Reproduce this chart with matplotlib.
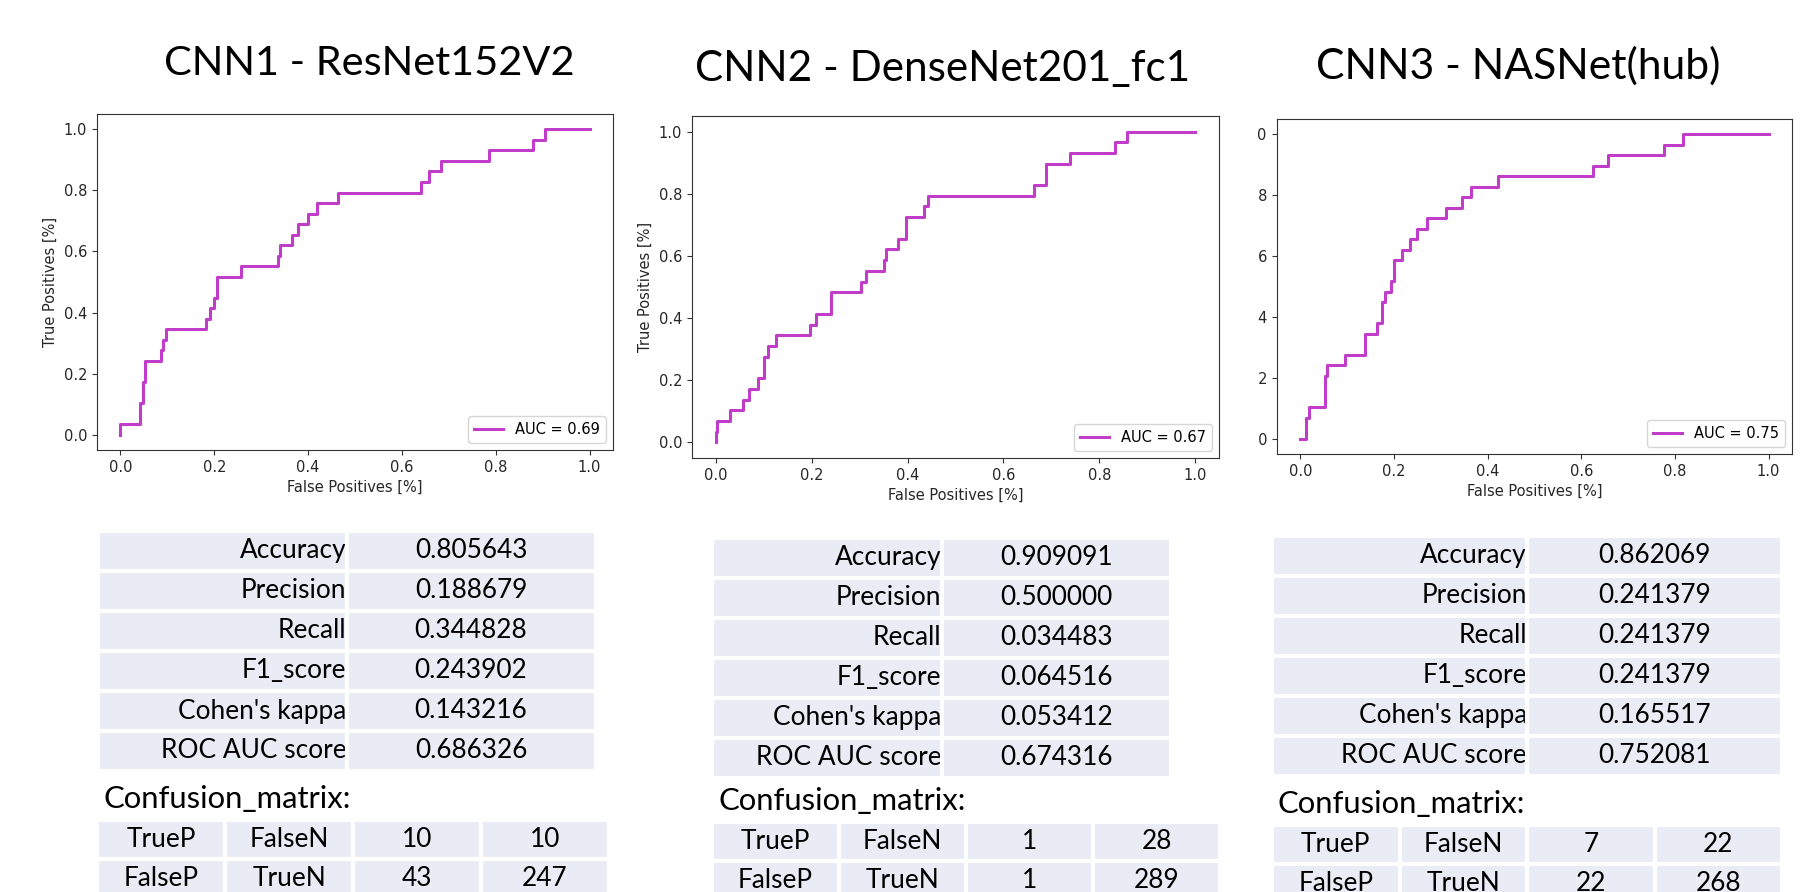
import matplotlib
matplotlib.use('Agg')
import matplotlib.pyplot as plt
from matplotlib.transforms import Bbox, TransformedBbox

# ROC curves (step corners: fpr where tpr jumps, tpr after the jump)
roc1_fpr = [0.0, 0.0, 0.041, 0.047, 0.052, 0.086, 0.090, 0.097, 0.183, 0.191, 0.200, 0.205, 0.257, 0.336,
            0.340, 0.366, 0.378, 0.400, 0.418, 0.463, 0.641, 0.658, 0.683, 0.786, 0.880, 0.904, 1.0]
roc1_tpr = [0.0, 0.034, 0.103, 0.172, 0.241, 0.276, 0.310, 0.345, 0.379, 0.414, 0.448, 0.517, 0.552, 0.586,
            0.621, 0.655, 0.690, 0.724, 0.759, 0.793, 0.828, 0.862, 0.897, 0.931, 0.966, 1.0, 1.0]
roc2_fpr = [0.0, 0.0, 0.002, 0.030, 0.057, 0.070, 0.088, 0.100, 0.109, 0.126, 0.196, 0.209, 0.241, 0.303,
            0.313, 0.350, 0.355, 0.379, 0.397, 0.435, 0.442, 0.664, 0.688, 0.740, 0.833, 0.858, 1.0]
roc2_tpr = [0.0, 0.034, 0.069, 0.103, 0.138, 0.172, 0.207, 0.276, 0.310, 0.345, 0.379, 0.414, 0.483, 0.517,
            0.552, 0.586, 0.621, 0.655, 0.724, 0.759, 0.793, 0.828, 0.897, 0.931, 0.966, 1.0, 1.0]
roc3_fpr = [0.0, 0.012, 0.018, 0.052, 0.056, 0.095, 0.138, 0.163, 0.175, 0.180, 0.194, 0.200, 0.216,
            0.235, 0.248, 0.271, 0.311, 0.346, 0.365, 0.421, 0.625, 0.657, 0.776, 0.818, 1.0]
roc3_tpr = [0.0, 0.069, 0.103, 0.207, 0.241, 0.276, 0.345, 0.379, 0.448, 0.483, 0.517, 0.586, 0.621,
            0.655, 0.690, 0.724, 0.759, 0.793, 0.828, 0.862, 0.897, 0.931, 0.966, 1.0, 1.0]
auc_labels = ['AUC = 0.69', 'AUC = 0.67', 'AUC = 0.75']

titles = ['CNN1 - ResNet152V2', 'CNN2 - DenseNet201_fc1', 'CNN3 - NASNet(hub)']

metric_names = ['Accuracy', 'Precision', 'Recall', 'F1_score', "Cohen's kappa", 'ROC AUC score']
cnn1_metrics = ['0.805643', '0.188679', '0.344828', '0.243902', '0.143216', '0.686326']
cnn2_metrics = ['0.909091', '0.500000', '0.034483', '0.064516', '0.053412', '0.674316']
cnn3_metrics = ['0.862069', '0.241379', '0.241379', '0.241379', '0.165517', '0.752081']

cm_row_names = [['TrueP', 'FalseN'], ['FalseP', 'TrueN']]
cnn1_cm = [['10', '10'], ['43', '247']]
cnn2_cm = [['1', '28'], ['1', '289']]
cnn3_cm = [['7', '22'], ['22', '268']]

W, H = 1810, 892
line_col = '#c13cc8'
cell_col = '#e9ebf5'
txt_font = ['Lato', 'DejaVu Sans']

fig = plt.figure(figsize=(W / 100, H / 100), dpi=100)
renderer = fig.canvas.get_renderer()


def px_rect(x0, y0, x1, y1):
    # pixel box (top-left origin) -> figure fraction rect
    return [x0 / W, 1 - y1 / H, (x1 - x0) / W, (y1 - y0) / H]


def fit_size(text, width_px, start=20):
    t = fig.text(0, 0, text, fontsize=start, family=txt_font)
    w = t.get_window_extent(renderer=renderer).width
    t.remove()
    return start * width_px / w


def roc_panel(rect, fpr, tpr, label, ylabel=True):
    ax = fig.add_axes(rect)
    ax.plot(fpr, tpr, drawstyle='steps-post', color=line_col, lw=2.2, label=label)
    ax.set_xlim(-0.05, 1.05)
    ax.set_ylim(-0.05, 1.05)
    ax.set_xticks([0, 0.2, 0.4, 0.6, 0.8, 1.0])
    ax.set_yticks([0, 0.2, 0.4, 0.6, 0.8, 1.0])
    ax.set_xlabel('False Positives [%]', fontsize=10.5, color='#262626')
    if ylabel:
        ax.set_ylabel('True Positives [%]', fontsize=10.5, color='#262626')
    ax.tick_params(labelsize=10.5, colors='#333333', labelcolor='#262626')
    for s in ax.spines.values():
        s.set_color('#333333')
    ax.legend(loc='lower right', fontsize=10.5)
    return ax


def metrics_table(rect, values, fs):
    ax = fig.add_axes(rect)
    ax.axis('off')
    rows = [[n, v] for n, v in zip(metric_names, values)]
    tb = ax.table(cellText=rows, bbox=[0, 0, 1, 1], cellLoc='center')
    tb.auto_set_font_size(False)
    for (r, c), cell in tb.get_celld().items():
        cell.set_facecolor(cell_col)
        cell.set_edgecolor('white')
        cell.set_linewidth(3)
        cell.get_text().set_fontsize(fs)
        cell.get_text().set_fontfamily(txt_font)
        if c == 0:
            cell.get_text().set_horizontalalignment('right')
            cell.PAD = 0.0
    return ax


def cm_table(rect, counts, fs):
    ax = fig.add_axes(rect)
    ax.axis('off')
    rows = [names + vals for names, vals in zip(cm_row_names, counts)]
    tb = ax.table(cellText=rows, bbox=[0, 0, 1, 1], cellLoc='center')
    tb.auto_set_font_size(False)
    for (r, c), cell in tb.get_celld().items():
        cell.set_facecolor(cell_col)
        cell.set_edgecolor('white')
        cell.set_linewidth(3)
        cell.get_text().set_fontsize(fs)
        cell.get_text().set_fontfamily(txt_font)
    return ax


# titles
title_x = [369, 943, 1518]
title_y = [75, 81, 79]
title_w = [410, 496, 405]
for t, x, y, w in zip(titles, title_x, title_y, title_w):
    fig.text(x / W, 1 - y / H, t, fontsize=fit_size(t, w), family=txt_font,
             ha='center', va='baseline')

# roc plots
roc_panel(px_rect(97, 114, 613, 450), roc1_fpr, roc1_tpr, auc_labels[0])
roc_panel(px_rect(692, 116, 1219, 458), roc2_fpr, roc2_tpr, auc_labels[1])
ax3 = roc_panel(px_rect(1277, 119, 1792, 454), roc3_fpr, roc3_tpr, auc_labels[2], ylabel=False)
# third screenshot is cut on the left, only the last digit of the y ticks shows
clip = TransformedBbox(Bbox([[1257 / W, 0], [1, 1]]), fig.transFigure)
for lbl in ax3.get_yticklabels():
    lbl.set_clip_box(clip)
    lbl.set_clip_on(True)

# tables
tab_fs = fit_size('ROC AUC score', 176) * 1.05
cm_fs = fit_size('Confusion_matrix:', 236) * 1.05
metrics_table(px_rect(97.5, 531, 595.5, 771), cnn1_metrics, tab_fs)
metrics_table(px_rect(712, 537.5, 1171, 777.5), cnn2_metrics, tab_fs)
metrics_table(px_rect(1272, 535.5, 1782, 775.5), cnn3_metrics, tab_fs)

cm_x = [103, 718, 1277]
cm_y = [808, 810, 813]
for x, y in zip(cm_x, cm_y):
    fig.text(x / W, 1 - y / H, 'Confusion_matrix:', fontsize=cm_fs, family=txt_font,
             ha='left', va='baseline')

cm_table(px_rect(97, 820, 609, 898), cnn1_cm, tab_fs)
cm_table(px_rect(712, 822, 1220, 900), cnn2_cm, tab_fs)
cm_table(px_rect(1272, 825, 1782, 903), cnn3_cm, tab_fs)

fig.savefig('out.png', dpi=100, facecolor='white')
